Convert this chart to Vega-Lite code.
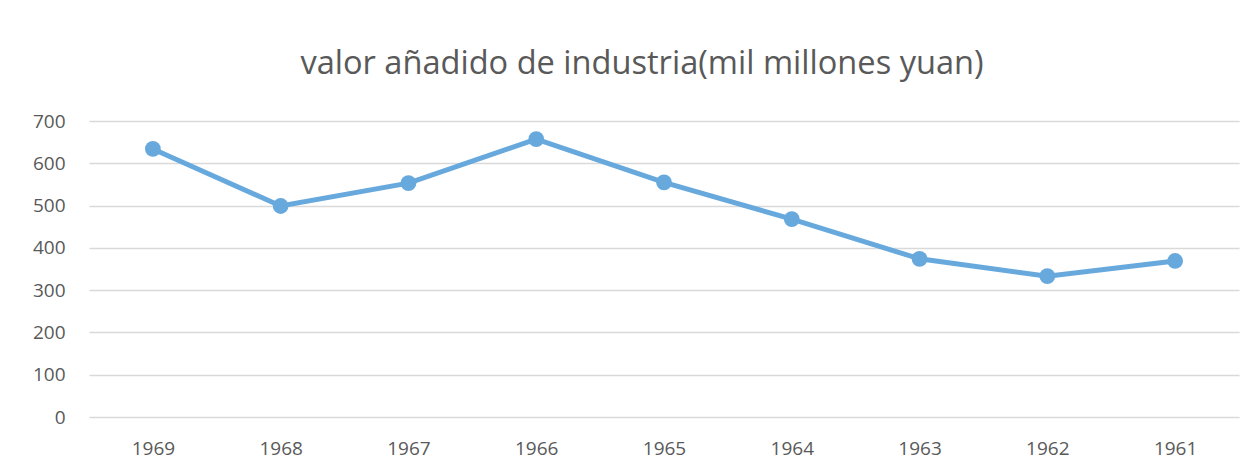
{
  "$schema": "https://vega.github.io/schema/vega-lite/v6.json",
  "autosize": {"type": "none"},
  "width": 1150,
  "height": 296,
  "padding": {"left": 89, "top": 121, "right": 19, "bottom": 54},
  "background": "white",
  "title": {
    "text": "valor añadido de industria(mil millones yuan)",
    "font": "Open Sans",
    "fontSize": 32.6,
    "fontWeight": "normal",
    "color": "#595959",
    "anchor": "middle",
    "offset": 31,
    "dx": -22
  },
  "data": {
    "values": [
      {"year": "1969", "value": 634},
      {"year": "1968", "value": 499},
      {"year": "1967", "value": 553},
      {"year": "1966", "value": 657},
      {"year": "1965", "value": 555},
      {"year": "1964", "value": 468},
      {"year": "1963", "value": 374},
      {"year": "1962", "value": 333},
      {"year": "1961", "value": 369}
    ]
  },
  "mark": {
    "type": "line",
    "color": "#68A9DD",
    "strokeWidth": 5,
    "point": {"filled": true, "size": 250, "color": "#68A9DD", "opacity": 1}
  },
  "encoding": {
    "x": {
      "field": "year",
      "type": "ordinal",
      "sort": null,
      "scale": {"type": "point", "padding": 0.5},
      "axis": {
        "title": null,
        "labelAngle": 0,
        "labelFont": "Open Sans",
        "labelFontSize": 19,
        "labelColor": "#595959",
        "labelPadding": 22,
        "ticks": false,
        "domain": false,
        "grid": false
      }
    },
    "y": {
      "field": "value",
      "type": "quantitative",
      "scale": {"domain": [0, 700], "nice": false},
      "axis": {
        "title": null,
        "values": [0, 100, 200, 300, 400, 500, 600, 700],
        "labelFont": "Open Sans",
        "labelFontSize": 19,
        "labelColor": "#595959",
        "labelPadding": 24,
        "ticks": false,
        "domain": false,
        "grid": true,
        "gridColor": "#D9D9D9",
        "gridWidth": 1.3
      }
    }
  },
  "config": {"view": {"stroke": null}}
}
